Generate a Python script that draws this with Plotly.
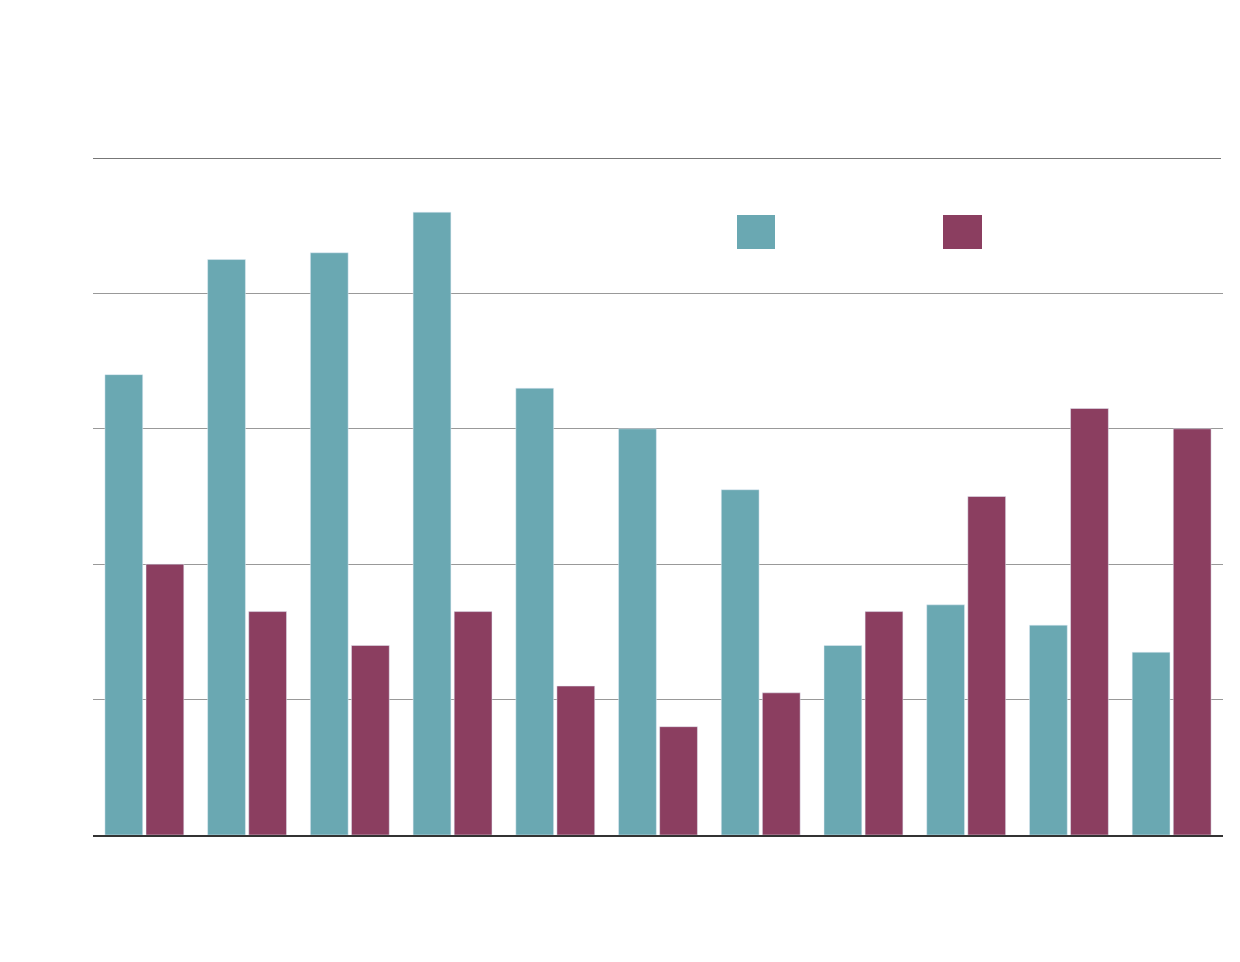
import plotly.graph_objects as go

categories = [str(i) for i in range(1, 12)]
series_a = [34, 42.5, 43, 46, 33, 30, 25.5, 14, 17, 15.5, 13.5]
series_b = [20, 16.5, 14, 16.5, 11, 8, 10.5, 16.5, 25, 31.5, 30]
teal = "#6AA8B2"
maroon = "#8B3E60"

OFF = 8  # page body offset
W, H = 1240, 962
L, T = 93 - OFF, 158 - OFF
R = W - (1223 - OFF)
B = H - (835 - OFF)

fig = go.Figure()
fig.add_trace(go.Bar(x=categories, y=series_a, marker_color=teal, name="", showlegend=False))
fig.add_trace(go.Bar(x=categories, y=series_b, marker_color=maroon, name="", showlegend=False))

pw, ph = W - L - R, H - T - B
def px(x):
    return (x - OFF - L) / pw
def py(y):
    return (H - B - (y - OFF)) / ph

for x0, x1, c in [(737, 775, teal), (943, 982, maroon)]:
    fig.add_shape(type="rect", xref="paper", yref="paper",
                  x0=px(x0), x1=px(x1), y0=py(249), y1=py(215),
                  fillcolor=c, line_width=0)

fig.add_shape(type="line", xref="paper", yref="paper", x0=0, x1=px(1221),
              y0=py(158.5), y1=py(158.5),
              line=dict(color="#777", width=1))

fig.update_layout(
    width=W, height=H,
    margin=dict(l=L, r=R, t=T, b=B),
    paper_bgcolor="white", plot_bgcolor="white",
    barmode="group", bargap=0.2, bargroupgap=0.08,
    xaxis=dict(showticklabels=False, showgrid=False, ticks="",
               showline=True, linecolor="#333", linewidth=1.5),
    yaxis=dict(range=[0, 50], dtick=10, showticklabels=False, ticks="",
               showgrid=True, gridcolor="#999", gridwidth=1,
               zeroline=False, showline=False),
)
fig.write_html("out.html")
